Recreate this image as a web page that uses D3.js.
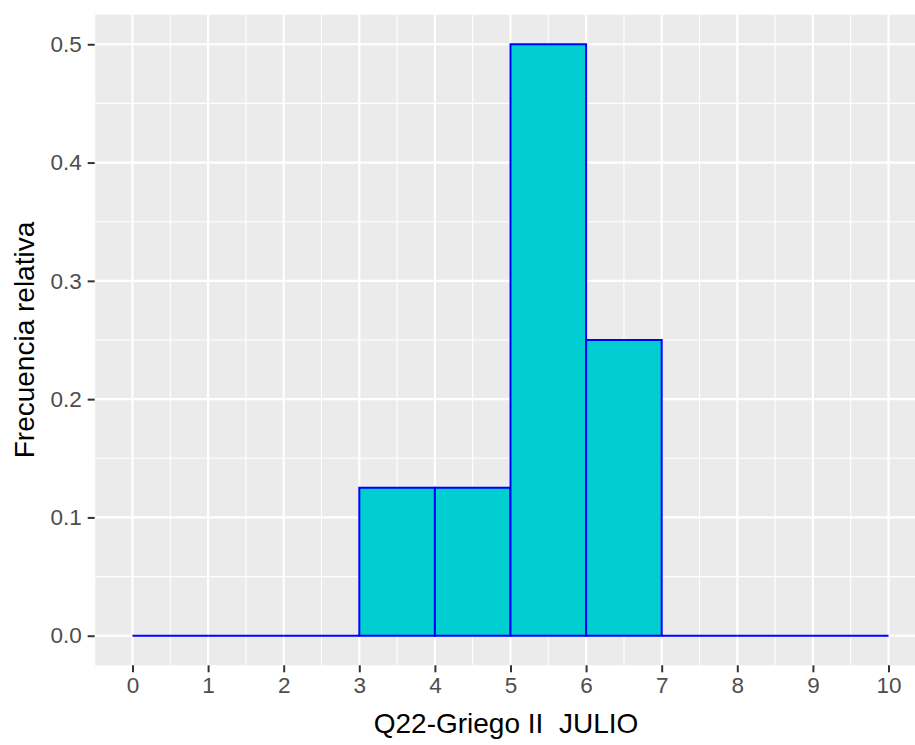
<!DOCTYPE html>
<html>
<head>
<meta charset="utf-8">
<script src="https://cdn.jsdelivr.net/npm/d3@7"></script>
<style>
  body { margin: 0; background: #fff; }
  text { font-family: "Liberation Sans", Arial, sans-serif; }
</style>
</head>
<body>
<div id="chart"></div>
<script>
// Data
const binStarts = [0, 1, 2, 3, 4, 5, 6, 7, 8, 9];
const binEnds   = [1, 2, 3, 4, 5, 6, 7, 8, 9, 10];
const relFreq   = [0, 0, 0, 0.125, 0.125, 0.5, 0.25, 0, 0, 0];
const xTicks = [0, 1, 2, 3, 4, 5, 6, 7, 8, 9, 10];
const yTicks = [0, 0.1, 0.2, 0.3, 0.4, 0.5];
const xTitle = "Q22-Griego II  JULIO";
const yTitle = "Frecuencia relativa";

const W = 915, H = 745;
const svg = d3.select("#chart").append("svg").attr("width", W).attr("height", H);

const x = d3.scaleLinear().domain([-0.5, 10.5]).range([94.7, 926.3]);
const y = d3.scaleLinear().domain([-0.025, 0.525]).range([665.3, 14.7]);

const [px0, px1] = x.range();
const [py1, py0] = y.range();

// panel background
svg.append("rect").attr("x", px0).attr("y", py0).attr("width", px1 - px0).attr("height", py1 - py0)
  .attr("fill", "#EBEBEB");

const g = svg.append("g");
// minor grid
const xMinor = d3.range(-0.5, 10.51, 1);
const yMinor = [0.05, 0.15, 0.25, 0.35, 0.45];
g.selectAll(".xmin").data(xMinor).enter().append("line")
  .attr("x1", d => x(d)).attr("x2", d => x(d)).attr("y1", py0).attr("y2", py1)
  .attr("stroke", "#fff").attr("stroke-width", 1.1);
g.selectAll(".ymin").data(yMinor).enter().append("line")
  .attr("x1", px0).attr("x2", px1).attr("y1", d => y(d)).attr("y2", d => y(d))
  .attr("stroke", "#fff").attr("stroke-width", 1.1);
// major grid
g.selectAll(".xmaj").data(xTicks).enter().append("line")
  .attr("x1", d => x(d)).attr("x2", d => x(d)).attr("y1", py0).attr("y2", py1)
  .attr("stroke", "#fff").attr("stroke-width", 2.2);
g.selectAll(".ymaj").data(yTicks).enter().append("line")
  .attr("x1", px0).attr("x2", px1).attr("y1", d => y(d)).attr("y2", d => y(d))
  .attr("stroke", "#fff").attr("stroke-width", 2.2);

// bars (as paths so zero-height bins still draw their outline)
const bins = binStarts.map((s, i) => ({ x0: s, x1: binEnds[i], v: relFreq[i] }));
svg.append("g").selectAll("path").data(bins).enter().append("path")
  .attr("d", d => {
    const a = x(d.x0), b = x(d.x1), t = y(d.v), z = y(0);
    return `M${a},${z}L${a},${t}L${b},${t}L${b},${z}Z`;
  })
  .attr("fill", "#00CED1").attr("stroke", "#0000FF").attr("stroke-width", 2)
  .attr("stroke-linejoin", "miter");

// axes
const xAxis = svg.append("g").attr("transform", `translate(0,${py1})`)
  .call(d3.axisBottom(x).tickValues(xTicks).tickFormat(d3.format("d")).tickSize(7).tickPadding(5));
const yAxis = svg.append("g").attr("transform", `translate(${px0},0)`)
  .call(d3.axisLeft(y).tickValues(yTicks).tickFormat(d3.format(".1f")).tickSize(7).tickPadding(6));
[xAxis, yAxis].forEach(a => {
  a.select(".domain").remove();
  a.selectAll(".tick line").attr("stroke", "#333333").attr("stroke-width", 2);
  a.selectAll(".tick text").attr("fill", "#4D4D4D").style("font-size", "22.5px")
    .style("font-family", '"Liberation Sans", Arial, sans-serif');
});

// titles
svg.append("text").attr("x", 506).attr("y", 733)
  .attr("text-anchor", "middle").style("font-size", "28px").style("white-space", "pre")
  .attr("fill", "#000").text(xTitle);
svg.append("text").attr("transform", `translate(33.5,${(py0 + py1) / 2}) rotate(-90)`)
  .attr("text-anchor", "middle").style("font-size", "28px").attr("fill", "#000")
  .text(yTitle);
</script>
</body>
</html>
